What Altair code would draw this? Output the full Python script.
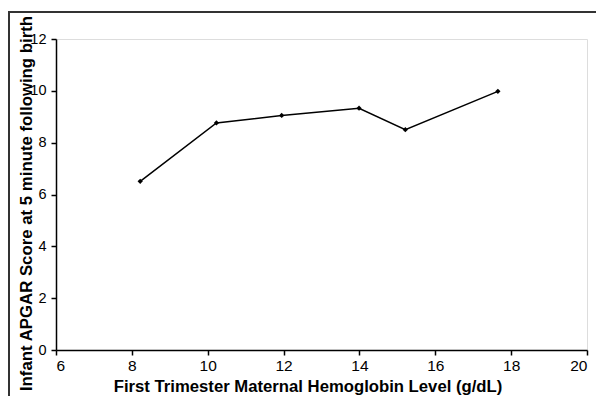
import altair as alt
import pandas as pd

hemoglobin = [8.22, 10.23, 11.95, 13.99, 15.21, 17.65]
apgar = [6.51, 8.76, 9.05, 9.33, 8.50, 9.98]

df = pd.DataFrame({"hb": hemoglobin, "apgar": apgar})

FONT = "Liberation Sans"

x_enc = alt.X(
    "hb:Q",
    scale=alt.Scale(domain=[6, 20], nice=False, zero=False),
    axis=alt.Axis(
        values=[6, 8, 10, 12, 14, 16, 18, 20],
        title="First Trimester Maternal Hemoglobin Level (g/dL)",
        grid=False,
        domainColor="#000", domainWidth=1.5,
        tickColor="#000", tickWidth=1.5, tickSize=5,
        labelFont=FONT, labelFontSize=15.5, labelColor="#000", labelPadding=3,
        titleFont=FONT, titleFontSize=16.7, titleFontWeight="bold", titleColor="#000",
        titlePadding=5, titleX=251.5, titleAnchor="middle",
    ),
)
y_enc = alt.Y(
    "apgar:Q",
    scale=alt.Scale(domain=[0, 12], nice=False),
    axis=alt.Axis(
        values=[0, 2, 4, 6, 8, 10, 12],
        title="Infant APGAR Score at 5 minute following birth",
        grid=False,
        domainColor="#000", domainWidth=1.5,
        tickColor="#000", tickWidth=1.5, tickSize=5,
        labelFont=FONT, labelFontSize=14.5, labelColor="#000", labelPadding=5,
        titleFont=FONT, titleFontSize=16.8, titleFontWeight="bold", titleColor="#000",
        titleX=-25, titleY=164, titleAnchor="middle", titleBaseline="alphabetic",
    ),
)

line = alt.Chart(df).mark_line(color="#000", strokeWidth=1.5).encode(x=x_enc, y=y_enc)
pts = alt.Chart(df).mark_point(shape="diamond", filled=True, color="#000", size=28, opacity=1).encode(x="hb:Q", y="apgar:Q")

border = alt.Chart(pd.DataFrame({"a": [0]})).mark_rect(
    filled=False, stroke="#333", strokeWidth=2
).encode(
    x=alt.value(-47), x2=alt.value(600), y=alt.value(-27), y2=alt.value(420)
)

chart = alt.layer(line, pts, border).properties(
    width=531, height=311,
    autosize=alt.AutoSizeParams(type="none"),
    padding={"left": 48, "top": 31, "right": 9, "bottom": 46},
).configure_view(stroke=None).configure(background="white")

chart.save("out.html", embed_options={"renderer": "svg", "actions": False})
